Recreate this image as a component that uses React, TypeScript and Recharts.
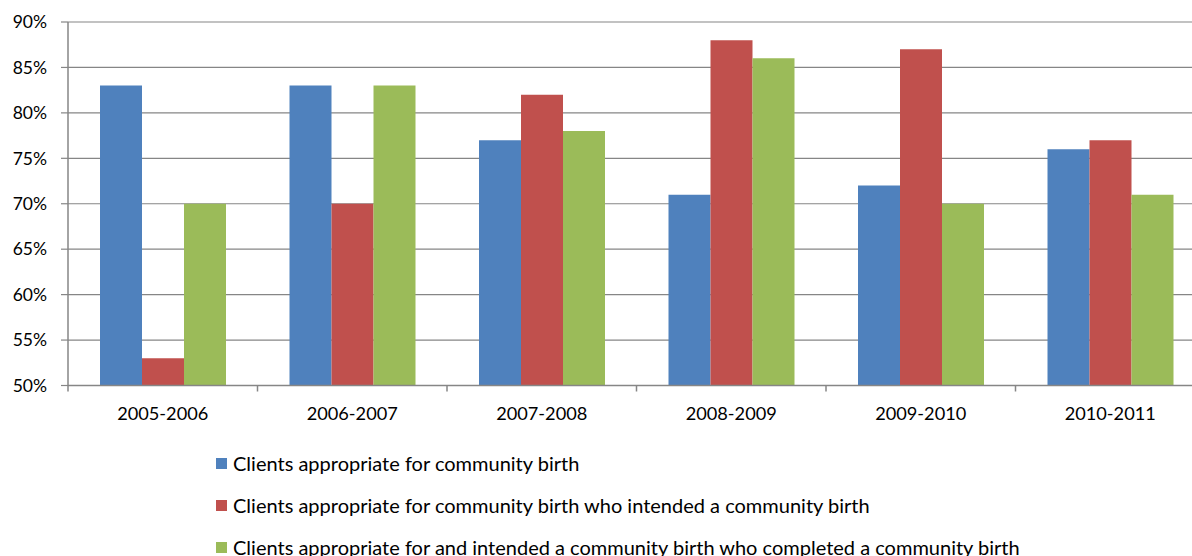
import React from 'react';
import { BarChart, Bar, XAxis, YAxis, CartesianGrid, Legend } from 'recharts';

const years = ['2005-2006', '2006-2007', '2007-2008', '2008-2009', '2009-2010', '2010-2011'];
const appropriate = [83, 83, 77, 71, 72, 76];
const intended = [53, 70, 82, 88, 87, 77];
const completed = [70, 83, 78, 86, 70, 71];
const yTicks = [50, 55, 60, 65, 70, 75, 80, 85, 90];

const seriesNames = [
  'Clients appropriate for community birth',
  'Clients appropriate for community birth who intended a community birth',
  'Clients appropriate for and intended a community birth who completed a community birth',
];
const colors = ['#4F81BD', '#C0504D', '#9BBB59'];

const rows = years.map((year, i) => ({
  year,
  appropriate: appropriate[i],
  intended: intended[i],
  completed: completed[i],
}));

const FONT = 'Lato, "Open Sans", sans-serif';
const AXIS_GRAY = '#868686';
const CHART_W = 1205;
const CHART_H = 556;
const PLOT_LEFT = 68;
const TICK_SIZE = 6;
const TICK_MARGIN = 16;

// Excel-style category axis: tick marks sit between categories, labels in the middle
const CategoryTick = (props: any) => {
  const { x, y, payload, index, visibleTicksCount } = props;
  const half = payload?.offset || (CHART_W - PLOT_LEFT) / years.length / 2;
  const axisY = y - TICK_SIZE - TICK_MARGIN;
  const isLast = index === (visibleTicksCount ?? years.length) - 1;
  return (
    <g>
      <line x1={x - half} x2={x - half} y1={axisY} y2={axisY + TICK_SIZE} stroke={AXIS_GRAY} strokeWidth={1.5} />
      {isLast && (
        <line x1={x + half} x2={x + half} y1={axisY} y2={axisY + TICK_SIZE} stroke={AXIS_GRAY} strokeWidth={1.5} />
      )}
      <text x={x} y={y} dy="0.71em" textAnchor="middle" fill="#000" fontSize={18.2} fontFamily={FONT}>
        {payload.value}
      </text>
    </g>
  );
};

const StackedLegend = () => (
  <div style={{ fontFamily: FONT, fontSize: 20, color: '#000' }}>
    {seriesNames.map((name, i) => (
      <div key={name} style={{ height: 42, display: 'flex', alignItems: 'center', whiteSpace: 'nowrap' }}>
        <span style={{ display: 'inline-block', width: 11, height: 11, background: colors[i], marginRight: 6 }} />
        <span>{name}</span>
      </div>
    ))}
  </div>
);

export default function App() {
  return (
    <div
      style={{
        position: 'absolute',
        left: 0,
        top: 0,
        width: 1192,
        height: 556,
        overflow: 'hidden',
        background: '#fff',
        fontFamily: FONT,
      }}
    >
      <BarChart
        width={CHART_W}
        height={CHART_H}
        data={rows}
        margin={{ top: 22, right: 0, left: 0, bottom: 140.5 }}
        barSize={42}
        barGap={0}
      >
        <CartesianGrid vertical={false} stroke={AXIS_GRAY} strokeWidth={1.2} />
        <XAxis
          dataKey="year"
          height={30}
          axisLine={{ stroke: AXIS_GRAY, strokeWidth: 1.5 }}
          tickLine={false}
          tickSize={TICK_SIZE}
          tickMargin={TICK_MARGIN}
          tick={<CategoryTick />}
          interval={0}
        />
        <YAxis
          width={PLOT_LEFT}
          domain={[50, 90]}
          ticks={yTicks}
          interval={0}
          tickFormatter={(v: number) => `${v}%`}
          axisLine={{ stroke: AXIS_GRAY, strokeWidth: 1.5 }}
          tickLine={{ stroke: AXIS_GRAY, strokeWidth: 1.2 }}
          tickSize={7}
          tickMargin={14}
          tick={{ fill: '#000', fontSize: 17.5, fontFamily: FONT }}
        />
        <Legend
          layout="vertical"
          align="center"
          verticalAlign="middle"
          content={<StackedLegend />}
          wrapperStyle={{ top: 442, left: 216, width: 'auto', height: 'auto' }}
        />
        <Bar dataKey="appropriate" name={seriesNames[0]} fill={colors[0]} isAnimationActive={false} />
        <Bar dataKey="intended" name={seriesNames[1]} fill={colors[1]} isAnimationActive={false} />
        <Bar dataKey="completed" name={seriesNames[2]} fill={colors[2]} isAnimationActive={false} />
      </BarChart>
    </div>
  );
}
